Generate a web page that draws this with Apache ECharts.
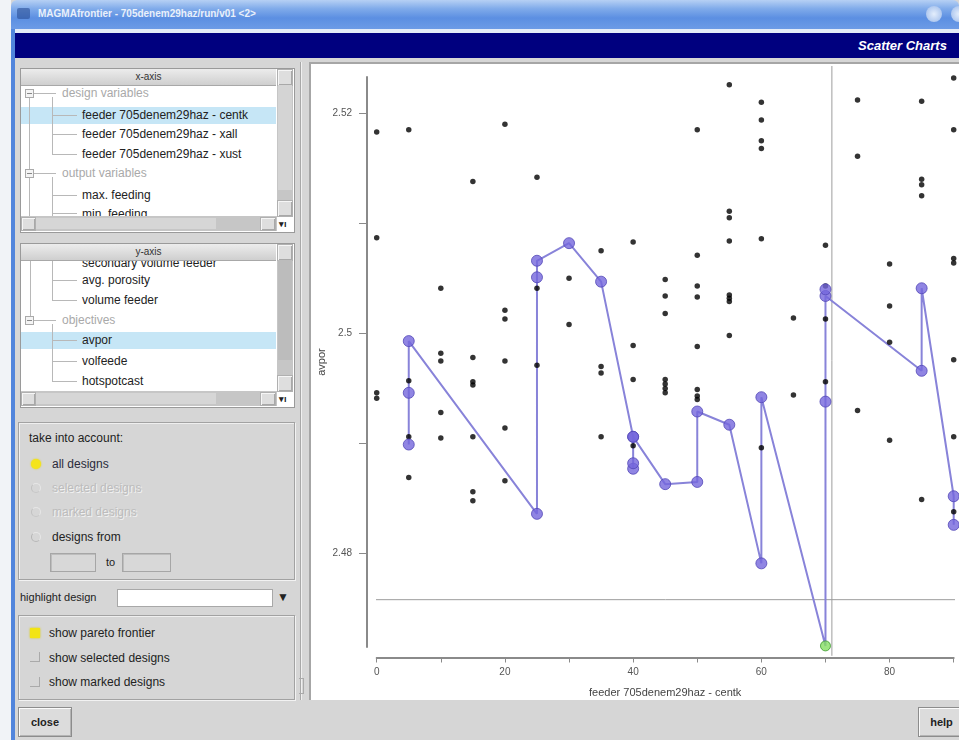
<!DOCTYPE html>
<html>
<head>
<meta charset="utf-8">
<title>Scatter Charts</title>
<script src="https://cdn.jsdelivr.net/npm/echarts@6.0.0/dist/echarts.min.js"></script>
<style>
  html, body { margin: 0; padding: 0; }
  body {
    width: 959px; height: 740px; overflow: hidden; position: relative;
    background: #d6d6d6;
    font-family: "Liberation Sans", Arial, sans-serif; font-size: 12px; color: #222;
  }
  .a { position: absolute; }
  .t { position: absolute; white-space: nowrap; line-height: 14px; height: 14px; }
  .dim { color: #a9a9a9; }
  .off { color: #bcbcbc; text-shadow: 1px 1px 0 #f2f2f2; }
  .sel { position: absolute; background: #c6e6f6; }
  .ln { position: absolute; background: #b8b8b8; }
  .frame { position: absolute; border: 1px solid #a2a2a2; box-shadow: inset 1px 1px 0 #efefef, 1px 1px 0 #f2f2f2; }
  .box { position: absolute; border: 1px solid #9a9a9a; background: #fff; }
  .hdr { position: absolute; background: linear-gradient(#ececec, #cfcfcf); border-bottom: 1px solid #a8a8a8;
         text-align: center; font-size: 10px; line-height: 16px; color: #333; }
  .track { position: absolute; background: #c6c6c6; }
  .btn { position: absolute; background: #dedede; border: 1px solid #b0b0b0; box-shadow: inset 1px 1px 0 #f6f6f6, inset -1px -1px 0 #a8a8a8; }
  .icon { position: absolute; width: 7px; height: 7px; border: 1px solid #aaa; background: #f4f4f4; }
  .icon:after { content: ""; position: absolute; left: 1px; top: 3px; width: 5px; height: 1px; background: #888; }
  .radio { position: absolute; width: 10px; height: 10px; border-radius: 50%; }
  .chk { position: absolute; width: 10px; height: 10px; }
  .push { position: absolute; background: #dcdcdc; border: 1px solid #8c8c8c; box-shadow: inset 1px 1px 0 #fafafa, inset -1px -1px 0 #b4b4b4;
          font-weight: bold; font-size: 11px; text-align: center; }
  .input { position: absolute; background: #d8d8d8; border: 1px solid #a6a6a6; box-shadow: inset 1px 1px 0 #bdbdbd; }
</style>
</head>
<body>
<!-- window frame -->
<div class="a" style="left:0;top:0;width:11px;height:740px;background:#f1f3f7"></div>
<div class="a" style="left:11px;top:0;width:948px;height:29px;border-radius:6px 6px 0 0;background:linear-gradient(#b6d0f4 0%,#80abea 30%,#5c8fe2 62%,#6c9be6 100%)"></div>
<div class="a" style="left:17px;top:8px;width:13px;height:11px;background:#2a4f96;border-radius:2px;opacity:.6"></div>
<div class="t" style="left:38px;top:7px;color:#fff;font-size:10px;font-weight:bold;opacity:.85">MAGMAfrontier - 705denem29haz/run/v01 &lt;2&gt;</div>
<div class="a" style="left:926px;top:6px;width:16px;height:16px;border-radius:50%;background:radial-gradient(#e4eefc,#9ab9ea)"></div>
<div class="a" style="left:951px;top:6px;width:16px;height:16px;border-radius:50%;background:radial-gradient(#e4eefc,#9ab9ea)"></div>
<div class="a" style="left:11px;top:29px;width:4px;height:711px;background:#5185dc"></div>
<div class="a" style="left:15px;top:29px;width:944px;height:4px;background:#e3ebf8"></div>
<div class="a" style="left:15px;top:33px;width:944px;height:25px;background:#00007f"></div>
<div class="t" style="left:858px;top:39px;color:#fff;font-size:13px;font-weight:bold;font-style:italic">Scatter Charts</div>

<!-- x-axis selector -->
<div class="box" style="left:20px;top:68px;width:273px;height:163px"></div>
<div class="hdr" style="left:21px;top:69px;width:255px;height:16px">x-axis</div>
<div class="sel" style="left:21px;top:107px;width:255px;height:17px"></div>
<div class="ln" style="left:29px;top:97px;width:1px;height:120px"></div>
<div class="ln" style="left:34px;top:93px;width:22px;height:1px"></div>
<div class="ln" style="left:52px;top:97px;width:1px;height:57px"></div>
<div class="ln" style="left:52px;top:115px;width:25px;height:1px"></div>
<div class="ln" style="left:52px;top:134px;width:25px;height:1px"></div>
<div class="ln" style="left:52px;top:154px;width:25px;height:1px"></div>
<div class="ln" style="left:34px;top:173px;width:22px;height:1px"></div>
<div class="ln" style="left:52px;top:177px;width:1px;height:40px"></div>
<div class="ln" style="left:52px;top:195px;width:25px;height:1px"></div>
<div class="ln" style="left:52px;top:213px;width:25px;height:1px"></div>
<div class="icon" style="left:25px;top:89px"></div>
<div class="icon" style="left:25px;top:169px"></div>
<div class="t dim" style="left:62px;top:86px">design variables</div>
<div class="t" style="left:82px;top:108px">feeder 705denem29haz - centk</div>
<div class="t" style="left:82px;top:127px">feeder 705denem29haz - xall</div>
<div class="t" style="left:82px;top:147px">feeder 705denem29haz - xust</div>
<div class="t dim" style="left:62px;top:166px">output variables</div>
<div class="t" style="left:82px;top:188px">max. feeding</div>
<div class="t" style="left:82px;top:207px">min. feeding</div>
<div class="track" style="left:277px;top:69px;width:16px;height:147px"></div>
<div class="btn" style="left:277px;top:69px;width:14px;height:15px"></div>
<div class="a" style="left:278px;top:85px;width:14px;height:105px;background:#d4d4d4"></div>
<div class="btn" style="left:277px;top:200px;width:14px;height:15px"></div>
<div class="track" style="left:21px;top:216px;width:256px;height:15px"></div>
<div class="btn" style="left:21px;top:217px;width:13px;height:12px"></div>
<div class="a" style="left:36px;top:218px;width:180px;height:11px;background:#d6d6d6"></div>
<div class="btn" style="left:260px;top:217px;width:14px;height:12px"></div>
<div class="t" style="left:279px;top:217px;font-size:9px;font-weight:bold">▾ı</div>

<!-- y-axis selector -->
<div class="box" style="left:20px;top:243px;width:273px;height:163px"></div>
<div class="sel" style="left:21px;top:332px;width:255px;height:17px"></div>
<div class="ln" style="left:30px;top:261px;width:1px;height:55px"></div>
<div class="ln" style="left:52px;top:261px;width:1px;height:39px"></div>
<div class="ln" style="left:52px;top:280px;width:25px;height:1px"></div>
<div class="ln" style="left:52px;top:300px;width:25px;height:1px"></div>
<div class="ln" style="left:34px;top:320px;width:22px;height:1px"></div>
<div class="ln" style="left:52px;top:324px;width:1px;height:57px"></div>
<div class="ln" style="left:52px;top:340px;width:25px;height:1px"></div>
<div class="ln" style="left:52px;top:361px;width:25px;height:1px"></div>
<div class="ln" style="left:52px;top:381px;width:25px;height:1px"></div>
<div class="icon" style="left:25px;top:316px"></div>
<div class="t" style="left:82px;top:256px">secondary volume feeder</div>
<div class="hdr" style="left:21px;top:244px;width:255px;height:16px">y-axis</div>
<div class="t" style="left:82px;top:273px">avg. porosity</div>
<div class="t" style="left:82px;top:293px">volume feeder</div>
<div class="t dim" style="left:62px;top:313px">objectives</div>
<div class="t" style="left:82px;top:333px">avpor</div>
<div class="t" style="left:82px;top:354px">volfeede</div>
<div class="t" style="left:82px;top:374px">hotspotcast</div>
<div class="track" style="left:277px;top:244px;width:16px;height:147px"></div>
<div class="btn" style="left:277px;top:244px;width:14px;height:15px"></div>
<div class="a" style="left:278px;top:260px;width:14px;height:100px;background:#bcbcbc"></div>
<div class="btn" style="left:277px;top:375px;width:14px;height:15px"></div>
<div class="track" style="left:21px;top:391px;width:256px;height:15px"></div>
<div class="btn" style="left:21px;top:392px;width:13px;height:12px"></div>
<div class="a" style="left:36px;top:393px;width:180px;height:11px;background:#d6d6d6"></div>
<div class="btn" style="left:260px;top:392px;width:14px;height:12px"></div>
<div class="t" style="left:279px;top:392px;font-size:9px;font-weight:bold">▾ı</div>

<!-- take into account -->
<div class="frame" style="left:18px;top:422px;width:275px;height:156px"></div>
<div class="t" style="left:29px;top:431px">take into account:</div>
<div class="radio" style="left:31px;top:459px;background:#f4e41c;box-shadow:0 0 2px #e8d800"></div>
<div class="t" style="left:52px;top:457px;color:#2a2a3a">all designs</div>
<div class="radio" style="left:31px;top:483px;border:1px solid #e6e6e6;border-left-color:#c0c0c0;border-bottom-color:#c8c8c8;width:8px;height:8px"></div>
<div class="t off" style="left:52px;top:481px">selected designs</div>
<div class="radio" style="left:31px;top:507px;border:1px solid #e6e6e6;border-left-color:#c0c0c0;border-bottom-color:#c8c8c8;width:8px;height:8px"></div>
<div class="t off" style="left:52px;top:505px">marked designs</div>
<div class="radio" style="left:31px;top:532px;border:1px solid #e6e6e6;border-left-color:#b4b4b4;border-bottom-color:#b8b8b8;width:8px;height:8px"></div>
<div class="t" style="left:52px;top:530px">designs from</div>
<div class="input" style="left:50px;top:553px;width:44px;height:17px"></div>
<div class="t" style="left:106px;top:555px;font-size:11px">to</div>
<div class="input" style="left:122px;top:553px;width:47px;height:17px"></div>

<div class="t" style="left:20px;top:590px;font-size:11px">highlight design</div>
<div class="a" style="left:117px;top:589px;width:154px;height:16px;background:#fff;border:1px solid #a8a8a8"></div>
<div class="t" style="left:277px;top:590px;font-size:12px">▼</div>

<!-- display options -->
<div class="frame" style="left:18px;top:615px;width:275px;height:83px"></div>
<div class="chk" style="left:30px;top:628px;background:#f2e414;box-shadow:0 0 2px #e0d000"></div>
<div class="t" style="left:49px;top:626px">show pareto frontier</div>
<div class="chk" style="left:30px;top:652px;border-right:1px solid #aaa;border-bottom:1px solid #aaa;width:9px;height:9px"></div>
<div class="t" style="left:49px;top:651px">show selected designs</div>
<div class="chk" style="left:30px;top:677px;border-right:1px solid #aaa;border-bottom:1px solid #aaa;width:9px;height:9px"></div>
<div class="t" style="left:49px;top:675px">show marked designs</div>

<div class="a" style="left:300px;top:62px;width:1px;height:638px;background:#a8a8a8"></div>
<div class="a" style="left:301px;top:62px;width:1px;height:638px;background:#f0f0f0"></div>
<div class="a" style="left:299px;top:678px;width:4px;height:14px;border:1px solid #aaa;border-left:none"></div>

<div class="push" style="left:18px;top:707px;width:52px;height:28px;line-height:28px">close</div>
<div class="push" style="left:918px;top:707px;width:45px;height:28px;line-height:28px">help</div>

<!-- chart panel -->
<div class="a" style="left:309px;top:62px;width:650px;height:638px;background:#fff;border-left:2px solid #a6a6a6;border-top:2px solid #a6a6a6;box-sizing:border-box"></div>
<div id="chart" class="a" style="left:313px;top:66px;width:646px;height:634px"></div>

<script>
// axis
const xName = 'feeder 705denem29haz - centk';
const yName = 'avpor';
const xRange = [0, 90];
const yRange = [2.4715, 2.5233];
const xLabelValues = [0, 20, 40, 60, 80];
const yLabelValues = [2.48, 2.5, 2.52];

// all evaluated designs (centk, avpor)
const designs = [
  [0, 2.5183], [0, 2.5087], [0, 2.4946], [0, 2.4941],
  [5, 2.5185], [5, 2.4957], [5, 2.4906], [5, 2.4869],
  [10, 2.5041], [10, 2.4982], [10, 2.4975], [10, 2.4928], [10, 2.4905],
  [15, 2.5138], [15, 2.4978], [15, 2.4956], [15, 2.4953], [15, 2.4906], [15, 2.4856], [15, 2.4848],
  [20, 2.5190], [20, 2.5021], [20, 2.5013], [20, 2.4975], [20, 2.4914], [20, 2.4866],
  [25, 2.5142], [25, 2.5041], [25, 2.4971],
  [30, 2.5050], [30, 2.5008],
  [35, 2.5075], [35, 2.4970], [35, 2.4964], [35, 2.4906],
  [40, 2.5083], [40, 2.4989], [40, 2.4958], [40, 2.4898],
  [45, 2.5049], [45, 2.5034], [45, 2.5018], [45, 2.4958], [45, 2.4954], [45, 2.4950], [45, 2.4946],
  [50, 2.5185], [50, 2.5071], [50, 2.5043], [50, 2.5033], [50, 2.4988], [50, 2.4949], [50, 2.4943], [50, 2.4940],
  [55, 2.5226], [55, 2.5111], [55, 2.5105], [55, 2.5084], [55, 2.5035], [55, 2.5032], [55, 2.5029], [55, 2.4998],
  [60, 2.5210], [60, 2.5194], [60, 2.5175], [60, 2.5168], [60, 2.5086], [60, 2.4896],
  [65, 2.5014], [65, 2.4944],
  [70, 2.5080], [70, 2.5043], [70, 2.5013], [70, 2.4956],
  [75, 2.5212], [75, 2.5161], [75, 2.4930],
  [80, 2.5063], [80, 2.5025], [80, 2.4992], [80, 2.4903],
  [85, 2.5211], [85, 2.5140], [85, 2.5135], [85, 2.5125], [85, 2.4849],
  [90, 2.5232], [90, 2.5185], [90, 2.5068], [90, 2.5064], [90, 2.4976], [90, 2.4906], [90, 2.4838]
];

// pareto frontier, in drawing order
const paretoFrontier = [
  [5, 2.4899], [5, 2.4946], [5, 2.4993], [25, 2.4836], [25, 2.5051], [25, 2.5066],
  [30, 2.5082], [35, 2.5047], [40, 2.4906], [40, 2.4877], [40, 2.4906], [45, 2.4863],
  [50, 2.4865], [50, 2.4929], [55, 2.4917], [60, 2.4791], [60, 2.4942], [70, 2.4716],
  [70, 2.4938], [70, 2.5034], [85, 2.4966], [85, 2.5041], [90, 2.4852], [90, 2.4826]
];
const paretoExtra = [[70, 2.5040], [40, 2.4882]];
const bestDesign = [70, 2.4716];

// selection cross hair
const selectedX = 71.0;
const selectedY = 2.4758;
const crossSpanX = [-1.5, 91];
const crossSpanY = [2.4707, 2.5245];

const chart = echarts.init(document.getElementById('chart'));

const paretoMarks = paretoFrontier
  .filter(p => !(p[0] === bestDesign[0] && p[1] === bestDesign[1]))
  .concat(paretoExtra);

const axisColor = '#8a8a8a';
const labelFont = { color: '#555', fontSize: 10, fontFamily: 'Liberation Sans' };

const option = {
  animation: false,
  grid: { left: 63.7, right: 5.3, top: 11, bottom: 53, containLabel: false, outerBoundsMode: 'none' },
  xAxis: {
    type: 'value',
    min: xRange[0],
    max: xRange[1],
    interval: 10,
    offset: 10.5,
    name: xName,
    nameLocation: 'middle',
    nameGap: 30,
    nameTextStyle: { color: '#444', fontSize: 11, fontFamily: 'Liberation Sans' },
    axisLine: { show: true, onZero: false, lineStyle: { color: axisColor, width: 2 } },
    axisTick: { show: true, length: 5, lineStyle: { color: axisColor, width: 1 } },
    axisLabel: Object.assign({
      margin: 10,
      formatter: v => (xLabelValues.indexOf(v) >= 0 ? String(v) : '')
    }, labelFont),
    splitLine: { show: false }
  },
  yAxis: {
    type: 'value',
    min: yRange[0],
    max: yRange[1],
    splitNumber: 5,
    offset: 9.7,
    name: yName,
    nameLocation: 'middle',
    nameGap: 40,
    nameMoveOverlap: false,
    nameRotate: 90,
    nameTextStyle: { color: '#444', fontSize: 11, fontFamily: 'Liberation Sans' },
    axisLine: { show: true, onZero: false, lineStyle: { color: axisColor, width: 2 } },
    axisTick: { show: true, length: 8, lineStyle: { color: axisColor, width: 1 } },
    axisLabel: Object.assign({
      margin: 15,
      showMinLabel: false,
      showMaxLabel: false,
      formatter: v => {
        const r = Math.round(v * 100) / 100;
        const hit = yLabelValues.some(t => Math.abs(t - v) < 1e-6);
        return hit ? String(r) : '';
      }
    }, labelFont),
    splitLine: { show: false }
  },
  series: [
    {
      name: 'selected x',
      type: 'line',
      data: [[selectedX, crossSpanY[0]], [selectedX, crossSpanY[1]]],
      symbol: 'none',
      clip: false,
      silent: true,
      lineStyle: { color: '#9d9d9d', width: 1 },
      z: 1
    },
    {
      name: 'selected y',
      type: 'line',
      data: [[crossSpanX[0], selectedY], [crossSpanX[1], selectedY]],
      symbol: 'none',
      clip: false,
      silent: true,
      lineStyle: { color: '#9d9d9d', width: 1 },
      z: 1
    },
    {
      name: 'pareto frontier',
      type: 'line',
      data: paretoFrontier,
      symbol: 'none',
      clip: false,
      lineStyle: { color: '#8883d9', width: 2 },
      z: 2
    },
    {
      name: 'designs',
      type: 'scatter',
      data: designs,
      symbolSize: 5.5,
      itemStyle: { color: '#000' },
      z: 3
    },
    {
      name: 'pareto designs',
      type: 'scatter',
      data: paretoMarks,
      symbolSize: 11,
      itemStyle: { color: '#7466dc', borderColor: '#5347b6', borderWidth: 1 },
      z: 4
    },
    {
      name: 'best design',
      type: 'scatter',
      data: [bestDesign],
      symbolSize: 10,
      clip: false,
      itemStyle: { color: '#84de62', borderColor: '#3f9a30', borderWidth: 1 },
      z: 5
    }
  ]
};

chart.setOption(option);
window.addEventListener('resize', () => {
  chart.resize();
});
</script>
</body>
</html>
